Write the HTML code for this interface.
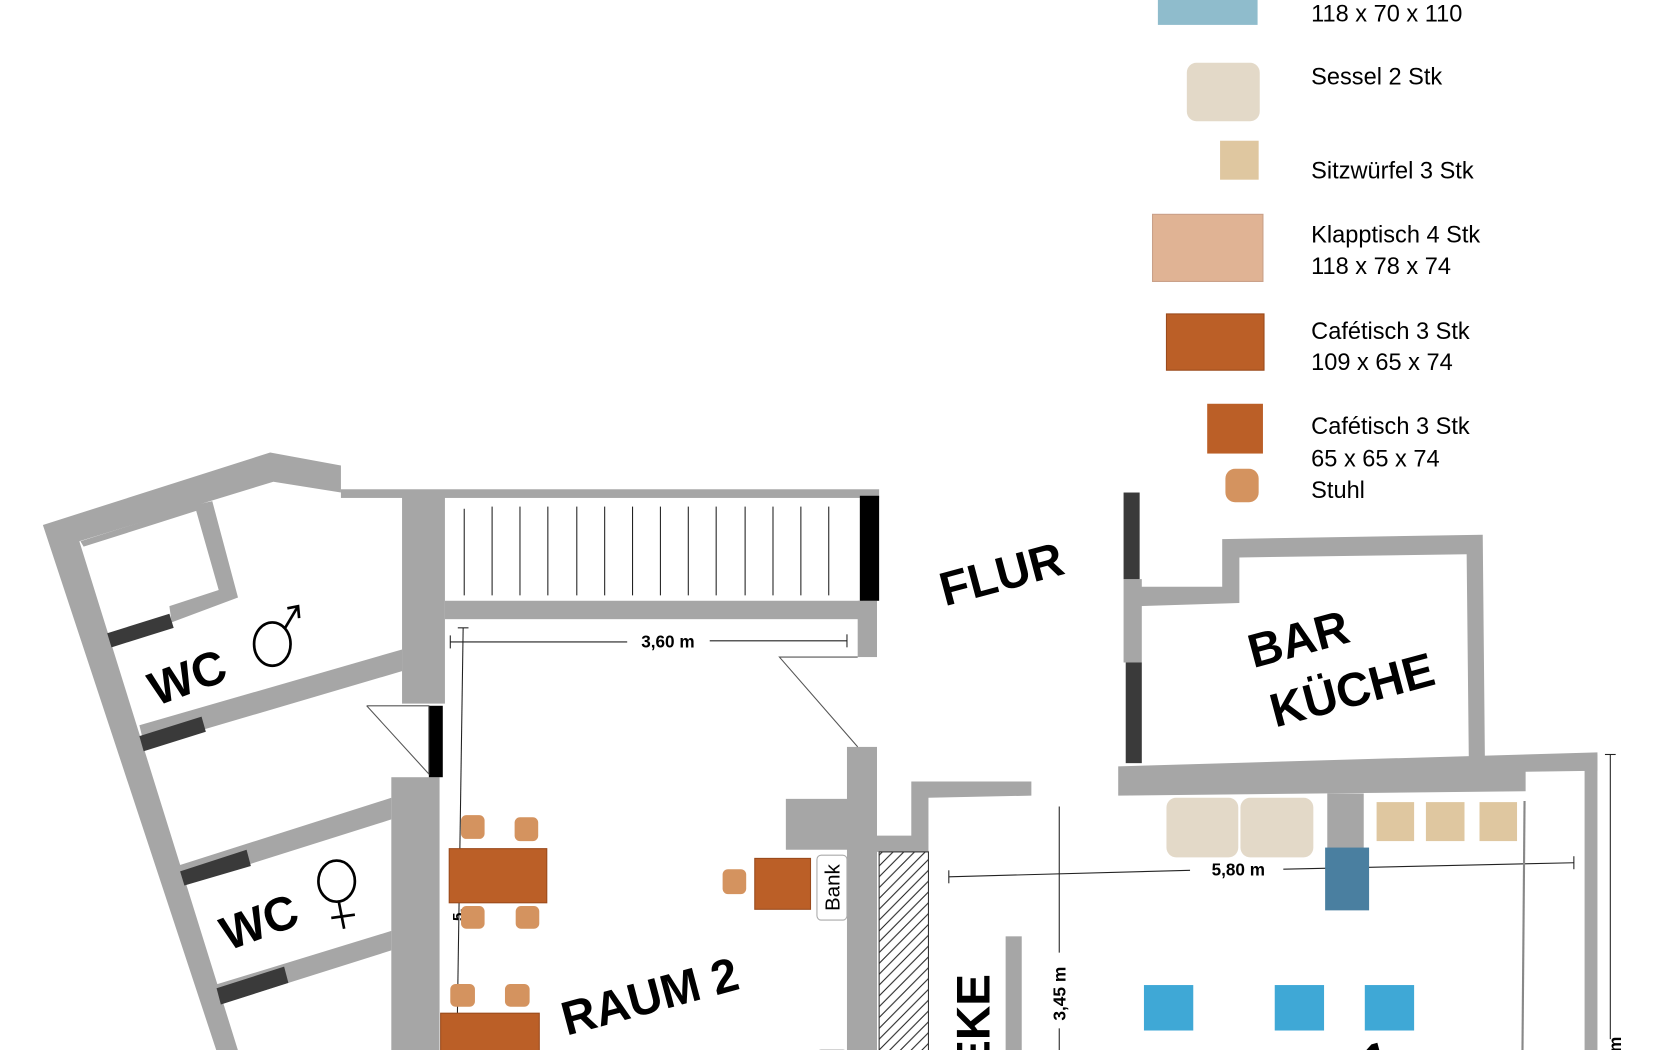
<!DOCTYPE html>
<html><head><meta charset="utf-8"><style>
html,body{margin:0;padding:0;background:#fff;overflow:hidden;width:1680px;height:1050px}
svg{display:block}
text{font-family:"Liberation Sans",sans-serif}
</style></head><body>
<svg width="1680" height="1050" viewBox="0 0 1567 970" preserveAspectRatio="none">
<defs>
<pattern id="h" width="10" height="10" patternUnits="userSpaceOnUse"><path d="M0,10 L10,0 M-2,2 L2,-2 M8,12 L12,8" stroke="#222" stroke-width="1"/></pattern>
</defs>
<rect x="1080" y="-5" width="93" height="28" fill="#8fbccc"/>
<text x="1223" y="20" font-size="22">118 x 70 x 110</text>
<rect x="1107" y="58" width="68" height="54" rx="9" fill="#e3d9c8"/>
<text x="1223" y="78" font-size="22">Sessel 2 Stk</text>
<rect x="1138" y="130" width="36" height="36" fill="#dfc7a0"/>
<text x="1223" y="165" font-size="22">Sitzwürfel 3 Stk</text>
<rect x="1075" y="198" width="103" height="62" fill="#e0b394" stroke="#c9a088"/>
<text x="1223" y="224" font-size="22">Klapptisch 4 Stk</text>
<text x="1223" y="253" font-size="22">118 x 78 x 74</text>
<rect x="1088" y="290" width="91" height="52" fill="#bb5f27" stroke="#9a4a1c"/>
<text x="1223" y="313" font-size="22">Cafétisch 3 Stk</text>
<text x="1223" y="342" font-size="22">109 x 65 x 74</text>
<rect x="1126" y="373" width="52" height="46" fill="#bb5f27"/>
<text x="1223" y="401" font-size="22">Cafétisch 3 Stk</text>
<text x="1223" y="431" font-size="22">65 x 65 x 74</text>
<rect x="1143" y="433" width="31" height="31" rx="9" fill="#d4935f"/>
<text x="1223" y="460" font-size="22">Stuhl</text>

<g fill="#a6a6a6">
<polygon points="40,485 252,418 318,430 318,455 255,445 74,500 225,980 205,980 40,485"/>
<polygon points="75,500 180,467 198,463 222,552 160,575 158,560 204,545 183,472 78,505"/>
<polygon points="130,670 375,600 375,620 135,690"/>
<polygon points="165,800 365,737 365,757 170,818"/>
<polygon points="200,910 365,860 365,878 205,928"/>
<rect x="375" y="455" width="40" height="195"/>
<rect x="365" y="718" width="45" height="262"/>
<rect x="318" y="452" width="502" height="8"/>
<rect x="415" y="555" width="390" height="17"/>
<rect x="800" y="555" width="18" height="52"/>
<rect x="790" y="690" width="28" height="290"/>
<rect x="733" y="738" width="60" height="47"/>
<polygon points="818,772 850,772 850,722 962,722 962,735 866,737 866,787 818,787"/>
<rect x="938" y="865" width="15" height="115"/>
<rect x="1048" y="535" width="17" height="77"/>
<polygon points="1060,542 1140,542 1140,498 1383,494 1385,700 1370,700 1368,512 1156,515 1156,557 1062,560"/>
<polygon points="1043,708 1490,695 1490,712 1423,713 1423,731 1043,735"/>
<rect x="1478" y="697" width="12" height="283"/>
<rect x="1238" y="733" width="34" height="52"/>
</g>
<g fill="#3a3a3a">
<polygon points="100,585 158,567 162,580 104,598"/>
<polygon points="130,680 188,662 192,676 134,694"/>
<polygon points="168,805 230,785 234,800 172,818"/>
<polygon points="202,913 265,893 269,908 206,928"/>
<rect x="1048" y="455" width="15" height="80"/>
<rect x="1050" y="612" width="15" height="93"/>
</g>
<rect x="802" y="458" width="18" height="97" fill="#000"/>
<rect x="400" y="652" width="13" height="66" fill="#000"/>
<g stroke="#222" stroke-width="1">
<line x1="433" y1="470" x2="433" y2="550"/><line x1="459" y1="468" x2="459" y2="550"/><line x1="485" y1="468" x2="485" y2="550"/><line x1="511" y1="468" x2="511" y2="550"/><line x1="538" y1="468" x2="538" y2="550"/><line x1="564" y1="468" x2="564" y2="550"/><line x1="590" y1="468" x2="590" y2="550"/><line x1="616" y1="468" x2="616" y2="550"/><line x1="642" y1="468" x2="642" y2="550"/><line x1="668" y1="468" x2="668" y2="550"/><line x1="695" y1="468" x2="695" y2="550"/><line x1="721" y1="468" x2="721" y2="550"/><line x1="747" y1="468" x2="747" y2="550"/><line x1="773" y1="468" x2="773" y2="550"/>
</g>
<g fill="none" stroke="#555" stroke-width="1">
<polyline points="800,607 727,607 800,690"/>
<polyline points="342,652 400,652 400,715 342,652"/>
</g>
<rect x="820" y="787" width="46" height="193" fill="url(#h)" stroke="#333" stroke-width="1"/>
<g stroke="#222" stroke-width="1" fill="none">
<line x1="420" y1="593" x2="585" y2="593"/><line x1="662" y1="592" x2="790" y2="592"/>
<line x1="420" y1="587" x2="420" y2="599"/><line x1="790" y1="586" x2="790" y2="598"/>
<line x1="432" y1="580" x2="426" y2="980"/><line x1="427" y1="580" x2="437" y2="580"/>
<line x1="885" y1="810" x2="1110" y2="804"/><line x1="1197" y1="803" x2="1468" y2="797"/>
<line x1="885" y1="804" x2="885" y2="816"/><line x1="1468" y1="791" x2="1468" y2="803"/>
<line x1="988" y1="745" x2="988" y2="880"/><line x1="988" y1="950" x2="988" y2="980"/>
<line x1="1502" y1="697" x2="1502" y2="960"/><line x1="1497" y1="697" x2="1507" y2="697"/>
<line x1="1422" y1="740" x2="1420" y2="980" stroke="#888" stroke-width="2"/>
</g>
<text x="623" y="598" font-size="16" font-weight="bold" text-anchor="middle">3,60 m</text>
<text x="1155" y="809" font-size="16" font-weight="bold" text-anchor="middle">5,80 m</text>
<text transform="translate(994,918) rotate(-90)" font-size="16" font-weight="bold" text-anchor="middle">3,45 m</text>
<text transform="translate(432,845) rotate(-90)" font-size="14" font-weight="bold" text-anchor="middle">5,</text>
<text transform="translate(1512,972) rotate(-90)" font-size="16" font-weight="bold">m</text>
<g fill="#d4935f">
<rect x="430" y="753" width="22" height="22" rx="5"/><rect x="480" y="755" width="22" height="22" rx="5"/>
<rect x="430" y="837" width="22" height="21" rx="5"/><rect x="481" y="837" width="22" height="21" rx="5"/>
<rect x="674" y="803" width="22" height="23" rx="5"/>
<rect x="420" y="909" width="23" height="21" rx="5"/><rect x="471" y="909" width="23" height="21" rx="5"/>
</g>
<g fill="#bb5f27" stroke="#9a4a1c">
<rect x="419" y="784" width="91" height="50"/>
<rect x="704" y="793" width="52" height="47"/>
<rect x="411" y="936" width="92" height="44"/>
<rect x="706" y="973" width="51" height="7"/>
</g>
<rect x="762" y="790" width="28" height="60" rx="4" fill="#fff" stroke="#aaa"/>
<rect x="762" y="970" width="28" height="10" rx="4" fill="#fff" stroke="#aaa"/>
<text transform="translate(783,820) rotate(-90)" font-size="19" text-anchor="middle">Bank</text>
<g fill="#e3d9c8"><rect x="1088" y="737" width="67" height="55" rx="9"/><rect x="1157" y="737" width="68" height="55" rx="9"/></g>
<g fill="#dfc7a0"><rect x="1284" y="741" width="35" height="36"/><rect x="1330" y="741" width="36" height="36"/><rect x="1380" y="741" width="35" height="36"/></g>
<rect x="1236" y="783" width="41" height="58" fill="#4a7fa0"/>
<g fill="#3fa8d6"><rect x="1067" y="910" width="46" height="42"/><rect x="1189" y="910" width="46" height="42"/><rect x="1273" y="910" width="46" height="42"/></g>
<g font-weight="bold" font-size="44">
<text transform="translate(180,640) rotate(-20)" text-anchor="middle">WC</text>
<text transform="translate(247,866) rotate(-20)" text-anchor="middle">WC</text>
<text transform="translate(938,545) rotate(-15)" text-anchor="middle">FLUR</text>
<text transform="translate(1215,605) rotate(-15)" text-anchor="middle">BAR</text>
<text transform="translate(1265,652) rotate(-15)" text-anchor="middle">KÜCHE</text>
<text transform="translate(610,935) rotate(-15)" text-anchor="middle">RAUM 2</text>
<text transform="translate(923,945) rotate(-90)" text-anchor="middle">EKE</text>
<text transform="translate(1265,1000) rotate(-15)" text-anchor="middle">M 1</text>
</g>
<g fill="none" stroke="#000" stroke-width="2.5">
<ellipse cx="254" cy="595" rx="17" ry="20"/><line x1="266" y1="580" x2="278" y2="560"/><polyline points="268,562 278,560 279,571"/>
<ellipse cx="314" cy="814" rx="17" ry="19"/><line x1="316" y1="833" x2="321" y2="858"/><line x1="309" y1="848" x2="331" y2="845"/>
</g>
</svg>
</body></html>
